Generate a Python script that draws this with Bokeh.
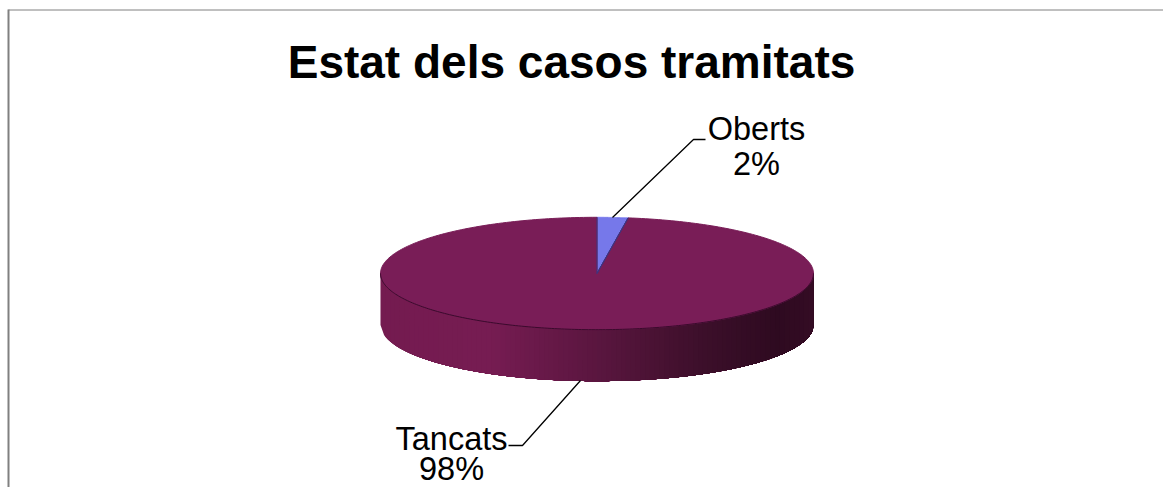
import numpy as np
from bokeh.plotting import figure
from bokeh.models import Range1d
from bokeh.embed import file_html
from bokeh.resources import INLINE
from bokeh.core.properties import value

title_text = "Estat dels casos tramitats"
categories = ["Oberts", "Tancats"]
shares = [2.3, 97.7]
share_labels = ["2%", "98%"]
colors = {"Oberts": "#7678ea", "Tancats": "#791d57"}

W, H = 1163, 487
p = figure(width=W, height=H, output_backend="svg", toolbar_location=None,
           x_range=Range1d(0, W), y_range=Range1d(H, 0),
           min_border=0, outline_line_color=None, background_fill_color="white",
           border_fill_color="white")
p.axis.visible = False
p.grid.visible = False

cx, cy, rx, ry, depth = 596.5, 273, 216.5, 56.2, 51.5

def lerp(a, b, t):
    return tuple(int(round(a[i] + (b[i] - a[i]) * t)) for i in range(3))

def shade(t):
    stops = [(0.0, (116, 27, 80)), (0.25, (118, 28, 82)), (0.5, (90, 22, 63)), (0.75, (60, 15, 42)), (0.92, (46, 10, 32)), (1.0, (52, 12, 36))]
    for (a, ca), (b, cb) in zip(stops, stops[1:]):
        if t <= b:
            return "#%02x%02x%02x" % lerp(ca, cb, (t - a) / (b - a))
    return "#%02x%02x%02x" % stops[-1][1]

# side wall: painter's order, each strip runs to the far right so no seams show
n = 90
edges = np.linspace(-rx, rx, n + 1)
for i in range(n):
    xr = np.linspace(edges[i], rx, 120)
    yr = ry * np.sqrt(np.clip(1 - (xr / rx) ** 2, 0, 1))
    xs = np.r_[cx + xr, cx + xr[::-1]]
    ys = np.r_[cy + yr, cy + yr[::-1] + depth]
    p.patch(xs, ys, fill_color=shade(i / (n - 1)), line_color=None)

# top wedges from the values, clockwise from 12 o'clock
a0 = 0.0
for cat, s in zip(categories, shares):
    a = np.linspace(a0, a0 + s / 100 * 2 * np.pi, 300)
    a0 += s / 100 * 2 * np.pi
    xs = np.r_[cx, cx + rx * np.sin(a)]
    ys = np.r_[cy, cy - ry * np.cos(a)]
    p.patch(xs, ys, fill_color=colors[cat], line_color=colors[cat], line_width=1)

# rim of the top face, and the outline of the small wedge
th = np.linspace(np.pi, 0, 200)
p.line(cx + rx * np.cos(th), cy + ry * np.sin(th), line_color="#3a0a2c", line_width=1)
am = shares[0] / 100 * 2 * np.pi
p.line([cx, cx, cx + rx * np.sin(am), cx], [cy - ry, cy, cy - ry * np.cos(am), cy], line_color="#3c3580", line_width=1)

# leader lines
p.line([612, 693, 705], [217, 139, 139], line_color="black", line_width=1.3)
p.line([580, 522, 508], [380, 445, 445], line_color="black", line_width=1.3)

# chart border
p.line([8, 8], [H, 9], line_color="#808080", line_width=2)
p.line([8, W], [9.5, 9.5], line_color="#808080", line_width=1)

# text
p.text([571], [61], text=[title_text], text_font=value("Liberation Sans"), text_font_style="bold",
       text_font_size="46px", text_align="center", text_baseline="middle", text_color="black")
lab_x = [756, 451]
lab_y1 = [128, 438]
lab_y2 = [163, 468]
p.text(lab_x, lab_y1, text=categories, text_font=value("Liberation Sans"), text_font_size="32.5px",
       text_align="center", text_baseline="middle", text_color="black")
p.text(lab_x, lab_y2, text=share_labels, text_font=value("Liberation Sans"), text_font_size="32.5px",
       text_align="center", text_baseline="middle", text_color="black")

open("out.html", "w").write(file_html(p, INLINE))
